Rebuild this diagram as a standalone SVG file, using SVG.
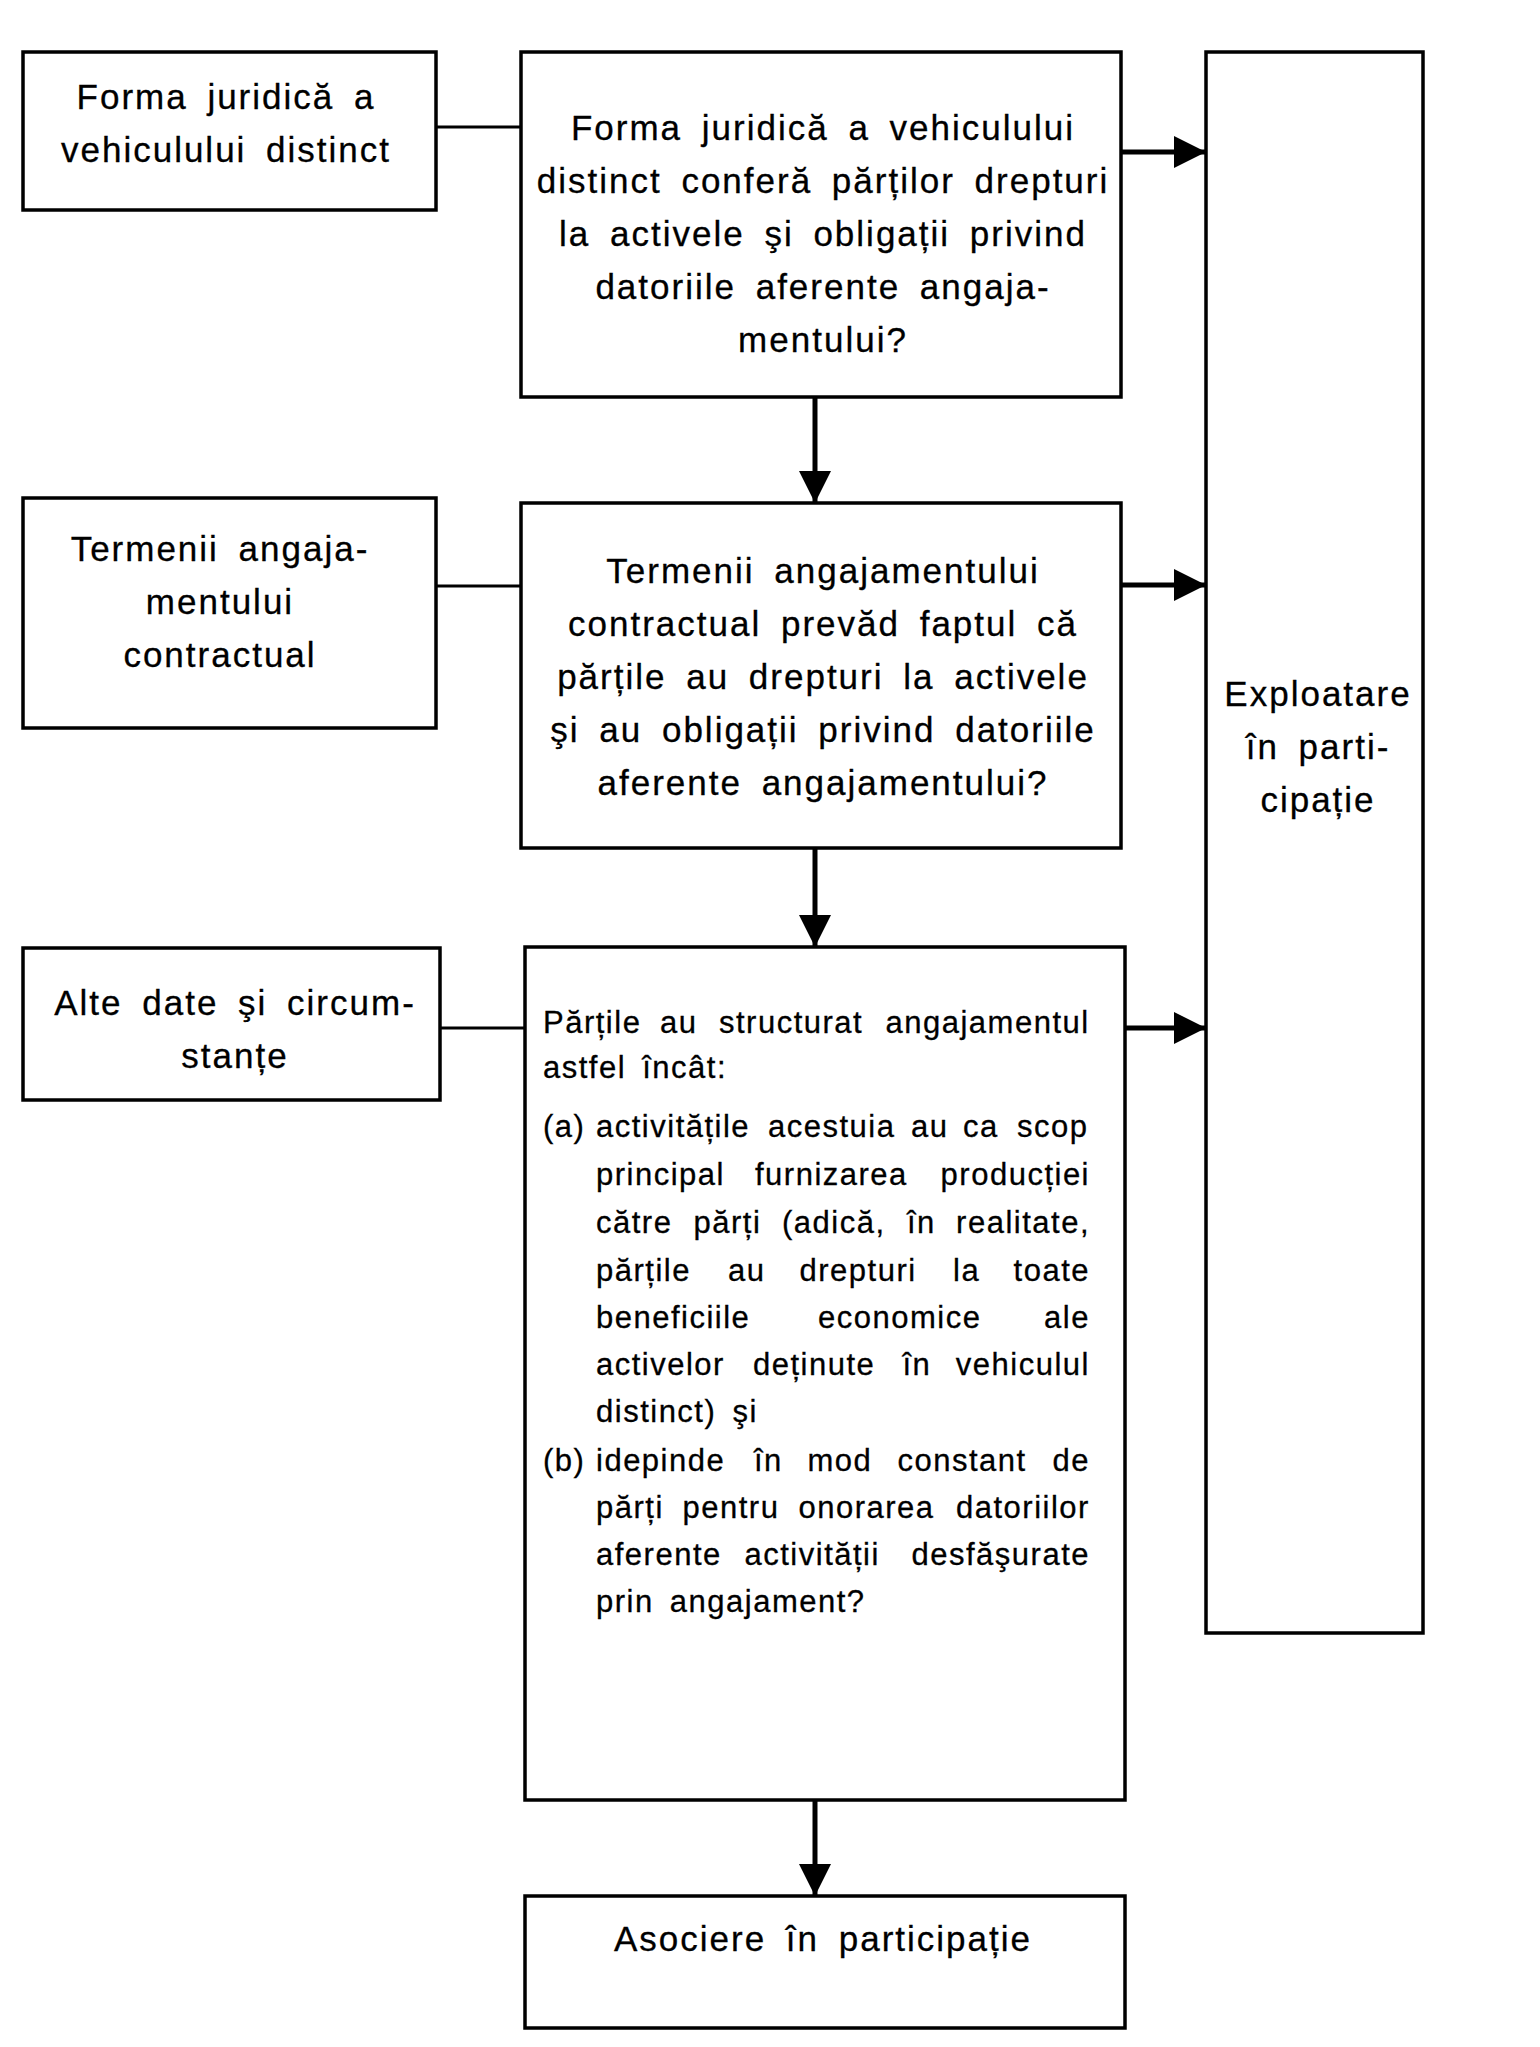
<svg xmlns="http://www.w3.org/2000/svg" width="1540" height="2047" viewBox="0 0 1540 2047">
<defs>
<style>
.box{fill:#fff;stroke:#000;stroke-width:3.5}
.ln{stroke:#000;stroke-width:3;fill:none}
.ar{stroke:#000;stroke-width:5;fill:none;marker-end:url(#ah)}
text{font-family:"Liberation Sans",Arial,Helvetica,sans-serif;fill:#000;stroke:#000;stroke-width:0.3}
.t{font-size:35px;letter-spacing:2px;word-spacing:8px;text-anchor:middle}
.f{font-size:31px;letter-spacing:1.5px;word-spacing:6px;text-anchor:start}
</style>
<marker id="ah" markerUnits="userSpaceOnUse" markerWidth="34" markerHeight="32" refX="32" refY="16" orient="auto">
<path d="M0,0 L32,16 L0,32 Z" fill="#000"/>
</marker>
</defs>
<rect width="1540" height="2047" fill="#fff"/>

<g id="connectors">
<line class="ln" x1="436" y1="127" x2="521" y2="127"/>
<line class="ln" x1="436" y1="586" x2="521" y2="586"/>
<line class="ln" x1="440" y1="1028" x2="525" y2="1028"/>
<line class="ar" x1="1121" y1="152" x2="1206" y2="152"/>
<line class="ar" x1="1121" y1="585" x2="1206" y2="585"/>
<line class="ar" x1="1125" y1="1028" x2="1206" y2="1028"/>
<line class="ar" x1="815" y1="397" x2="815" y2="503"/>
<line class="ar" x1="815" y1="848" x2="815" y2="947"/>
<line class="ar" x1="815" y1="1800" x2="815" y2="1896"/>
</g>

<g id="node-forma">
<rect class="box" x="23" y="52" width="413" height="158"/>
<text class="t" x="226" y="109">Forma juridică a</text>
<text class="t" x="226" y="162">vehiculului distinct</text>
</g>

<g id="node-q1">
<rect class="box" x="521" y="52" width="600" height="345"/>
<text class="t" x="823" y="140">Forma juridică a vehiculului</text>
<text class="t" x="823" y="193">distinct conferă părților drepturi</text>
<text class="t" x="823" y="246">la activele şi obligații privind</text>
<text class="t" x="823" y="299">datoriile aferente angaja-</text>
<text class="t" x="823" y="352">mentului?</text>
</g>

<g id="node-exploatare">
<rect class="box" x="1206" y="52" width="217" height="1581"/>
<text class="t" x="1318" y="706">Exploatare</text>
<text class="t" x="1318" y="759">în parti-</text>
<text class="t" x="1318" y="812">cipație</text>
</g>

<g id="node-termenii">
<rect class="box" x="23" y="498" width="413" height="230"/>
<text class="t" x="220" y="561">Termenii angaja-</text>
<text class="t" x="220" y="614">mentului</text>
<text class="t" x="220" y="667">contractual</text>
</g>

<g id="node-q2">
<rect class="box" x="521" y="503" width="600" height="345"/>
<text class="t" x="823" y="583">Termenii angajamentului</text>
<text class="t" x="823" y="636">contractual prevăd faptul că</text>
<text class="t" x="823" y="689">părțile au drepturi la activele</text>
<text class="t" x="823" y="742">şi au obligații privind datoriile</text>
<text class="t" x="823" y="795">aferente angajamentului?</text>
</g>

<g id="node-alte">
<rect class="box" x="23" y="948" width="417" height="152"/>
<text class="t" x="235" y="1015">Alte date şi circum-</text>
<text class="t" x="235" y="1068">stanțe</text>
</g>

<g id="node-q3">
<rect class="box" x="525" y="947" width="600" height="853"/>
<text class="f" y="1033"><tspan x="543">Părțile</tspan><tspan x="660">au</tspan><tspan x="719">structurat</tspan><tspan x="885.5">angajamentul</tspan></text>
<text class="f" x="543" y="1078">astfel încât:</text>
<text class="f" y="1137"><tspan x="543">(a)</tspan><tspan x="596">activitățile</tspan><tspan x="768">acestuia</tspan><tspan x="911">au</tspan><tspan x="963">ca</tspan><tspan x="1017">scop</tspan></text>
<text class="f" y="1185"><tspan x="596">principal</tspan><tspan x="755">furnizarea</tspan><tspan x="940.6">producției</tspan></text>
<text class="f" y="1233"><tspan x="596">către</tspan><tspan x="693.5">părți</tspan><tspan x="782">(adică,</tspan><tspan x="907">în</tspan><tspan x="956.1">realitate,</tspan></text>
<text class="f" y="1281"><tspan x="596">părțile</tspan><tspan x="728">au</tspan><tspan x="799.5">drepturi</tspan><tspan x="953">la</tspan><tspan x="1013.6">toate</tspan></text>
<text class="f" y="1328"><tspan x="596">beneficiile</tspan><tspan x="818">economice</tspan><tspan x="1044.1">ale</tspan></text>
<text class="f" y="1375"><tspan x="596">activelor</tspan><tspan x="753">deținute</tspan><tspan x="902.5">în</tspan><tspan x="955.8">vehiculul</tspan></text>
<text class="f" x="596" y="1422">distinct) şi</text>
<text class="f" y="1471"><tspan x="543">(b)</tspan><tspan x="596">idepinde</tspan><tspan x="754">în</tspan><tspan x="807.5">mod</tspan><tspan x="897.5">constant</tspan><tspan x="1052.4">de</tspan></text>
<text class="f" y="1518"><tspan x="596">părți</tspan><tspan x="682.5">pentru</tspan><tspan x="798.5">onorarea</tspan><tspan x="956">datoriilor</tspan></text>
<text class="f" y="1565"><tspan x="596">aferente</tspan><tspan x="744.5">activității</tspan><tspan x="911.5">desfăşurate</tspan></text>
<text class="f" x="596" y="1612">prin angajament?</text>
</g>

<g id="node-asociere">
<rect class="box" x="525" y="1896" width="600" height="132"/>
<text class="t" x="823" y="1951">Asociere în participație</text>
</g>
</svg>
